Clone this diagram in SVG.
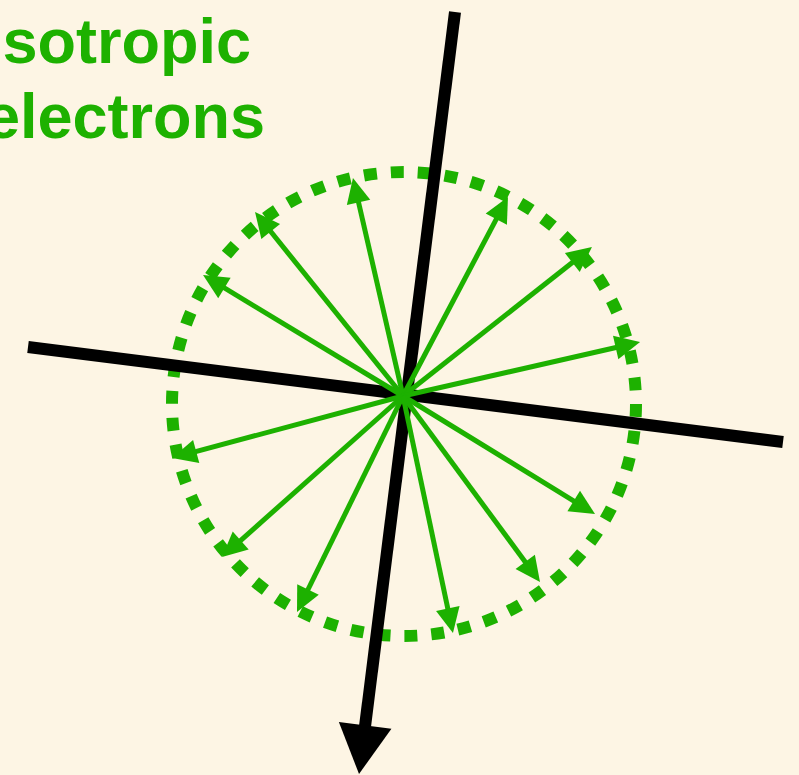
<svg xmlns="http://www.w3.org/2000/svg" width="799" height="775" viewBox="0 0 799 775">
<style>
.bg{fill:#fdf5e4}
.lbl{font-family:"Liberation Sans",Arial,sans-serif;font-weight:bold;font-size:63px;fill:#1db100}
.ring{fill:none;stroke:#1db100;stroke-width:12;stroke-dasharray:13 13.99}
.ray{stroke:#1db100;stroke-width:5;fill:none;marker-end:url(#ga)}
.axis{stroke:#000;stroke-width:12;fill:none}
</style>
<defs>
<marker id="ga" markerUnits="userSpaceOnUse" markerWidth="28" markerHeight="26" refX="15" refY="12" orient="auto" overflow="visible">
<path d="M0,0 L25,12 L0,24 z" fill="#1db100"/>
</marker>
<marker id="ba" markerUnits="userSpaceOnUse" markerWidth="50" markerHeight="54" refX="10" refY="26.5" orient="auto" overflow="visible">
<path d="M0,0 L49,26.5 L0,53 z" fill="#000"/>
</marker>
</defs>
<rect class="bg" x="0" y="0" width="799" height="775"/>
<g id="label">
<text class="lbl" x="-15" y="63">Isotropic</text>
<text class="lbl" x="-15" y="138">electrons</text>
</g>
<g id="ring">
<circle class="ring" cx="404" cy="404" r="232"/>
</g>
<g id="connectors">
<line class="axis" x1="28" y1="347" x2="783" y2="442"/>
<line class="axis" x1="455" y1="12" x2="363.9" y2="735.3" marker-end="url(#ba)"/>
<line class="ray" x1="403" y1="396" x2="211.6" y2="280.2"/>
<line class="ray" x1="403" y1="396" x2="261.3" y2="219.8"/>
<line class="ray" x1="403" y1="396" x2="355.2" y2="187.7"/>
<line class="ray" x1="403" y1="396" x2="503.3" y2="205.8"/>
<line class="ray" x1="403" y1="396" x2="584.1" y2="253.2"/>
<line class="ray" x1="403" y1="396" x2="630.3" y2="344.2"/>
<line class="ray" x1="403" y1="396" x2="181.7" y2="455.4"/>
<line class="ray" x1="403" y1="396" x2="229.5" y2="550.4"/>
<line class="ray" x1="403" y1="396" x2="301.4" y2="603"/>
<line class="ray" x1="403" y1="396" x2="586.5" y2="508.8"/>
<line class="ray" x1="403" y1="396" x2="534.1" y2="574"/>
<line class="ray" x1="403" y1="396" x2="450.9" y2="623.2"/>
</g>
</svg>
